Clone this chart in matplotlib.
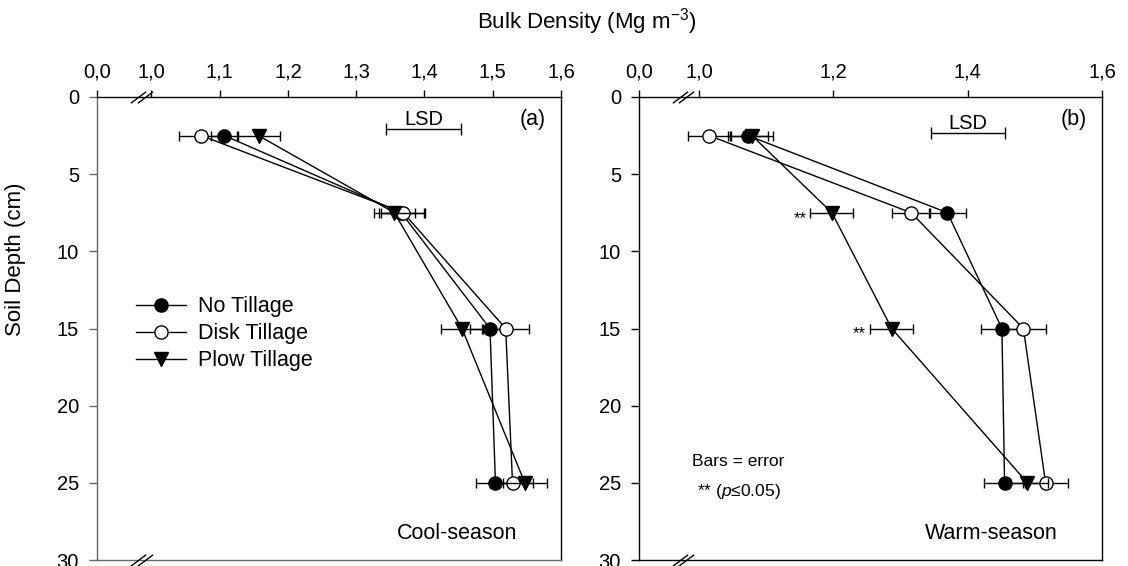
import matplotlib
matplotlib.use("Agg")
import matplotlib.pyplot as plt
from matplotlib.path import Path
from matplotlib.lines import Line2D
from matplotlib.transforms import blended_transform_factory

plt.rcParams['font.family'] = ['Liberation Sans', 'DejaVu Sans']
plt.rcParams['mathtext.fontset'] = 'custom'
plt.rcParams['mathtext.rm'] = 'Liberation Sans'
plt.rcParams['mathtext.it'] = 'Liberation Sans:italic'
plt.rcParams['mathtext.default'] = 'regular'

depth = [2.5, 7.5, 15, 25]
treatments = ["No Tillage", "Disk Tillage", "Plow Tillage"]

# cool-season bulk density (Mg m-3) and errors
cool_no = [1.107, 1.366, 1.496, 1.504]
cool_disk = [1.073, 1.369, 1.519, 1.529]
cool_plow = [1.157, 1.356, 1.455, 1.547]
cool_no_err = [0.020, 0.033, 0.030, 0.029]
cool_disk_err = [0.032, 0.032, 0.034, 0.030]
cool_plow_err = [0.032, 0.030, 0.031, 0.032]
cool_lsd = [1.344, 1.453]

# warm-season bulk density (Mg m-3) and errors
warm_no = [1.073, 1.370, 1.451, 1.455]
warm_disk = [1.015, 1.316, 1.483, 1.516]
warm_plow = [1.079, 1.198, 1.287, 1.489]
warm_no_err = [0.030, 0.027, 0.031, 0.031]
warm_disk_err = [0.031, 0.028, 0.033, 0.033]
warm_plow_err = [0.031, 0.032, 0.032, 0.030]
warm_lsd = [1.346, 1.455]
warm_signif_depth = [7.5, 15]

cool_ticks = [1.0, 1.1, 1.2, 1.3, 1.4, 1.5, 1.6]
warm_ticks = [1.0, 1.2, 1.4, 1.6]
depth_ticks = [0, 5, 10, 15, 20, 25, 30]

styles = [dict(marker='o', markerfacecolor='black', markersize=9.5),
          dict(marker='o', markerfacecolor='white', markersize=9.5),
          dict(marker='v', markerfacecolor='black', markersize=10)]

brk = Path([(-1, -0.75), (1, 0.75)], [Path.MOVETO, Path.LINETO])


def drawPanel(ax, series, errs, lsd, lsd_y, xmin, ticks, tag, season, spinecol, brkpos):
    for i in range(len(series)):
        ax.errorbar(series[i], depth, xerr=errs[i], color='black', lw=1,
                    capsize=3.5, capthick=1, elinewidth=1,
                    markeredgecolor='black', markeredgewidth=1,
                    zorder=3 + i, **styles[i])

    # LSD bar
    c = (lsd[0] + lsd[1]) / 2
    ax.errorbar([c], [lsd_y], xerr=[(lsd[1] - lsd[0]) / 2], fmt='none',
                ecolor='black', elinewidth=1, capsize=4, capthick=1)
    ax.text(c, lsd_y - 0.3, "LSD", ha='center', va='baseline', fontsize=14.5)

    ax.set_xlim(xmin, 1.6)
    ax.set_ylim(30, 0)
    ax.xaxis.tick_top()
    ax.set_xticks([xmin] + ticks)
    ax.set_xticklabels(["0,0"] + [("%.1f" % t).replace(".", ",") for t in ticks])
    ax.set_yticks(depth_ticks)
    ax.tick_params(axis='x', direction='out', length=5, width=1, pad=6, labelsize=14.5)
    ax.tick_params(axis='y', direction='out', length=6, width=1, pad=7, labelsize=14.5,
                   color=spinecol)
    for s in ['left', 'bottom']:
        ax.spines[s].set_color(spinecol)
    for s in ax.spines.values():
        s.set_linewidth(1)

    ax.text(0.94, 0.952, tag, transform=ax.transAxes, ha='center', va='center',
            fontsize=15.5)
    ax.text(0.905, 0.058, season, transform=ax.transAxes, ha='right', va='center',
            fontsize=15.5)

    # axis break marks
    tr = blended_transform_factory(ax.transData, ax.transAxes)
    xb = xmin + brkpos * (1.0 - xmin)
    d = 0.0045
    for yb in [0, 1]:
        ax.plot([xb - d, xb + d], [yb, yb], linestyle='none', marker=brk,
                markersize=11, markeredgewidth=1, color='black',
                transform=tr, clip_on=False, zorder=10)


fig = plt.figure(figsize=(11.28, 5.66), dpi=100)
ax1 = fig.add_axes([97 / 1128, 1 - 560 / 566, 464 / 1128, 463 / 566])
ax2 = fig.add_axes([639 / 1128, 1 - 560 / 566, 463 / 1128, 463 / 566])

drawPanel(ax1, [cool_no, cool_disk, cool_plow],
          [cool_no_err, cool_disk_err, cool_plow_err], cool_lsd, 2.1,
          0.9204, cool_ticks, "(a)", "Cool-season", '#666666', 0.82)
drawPanel(ax2, [warm_no, warm_disk, warm_plow],
          [warm_no_err, warm_disk_err, warm_plow_err], warm_lsd, 2.35,
          0.9108, warm_ticks, "(b)", "Warm-season", 'black', 0.74)

# significance stars beside plow tillage
for dp in warm_signif_depth:
    k = depth.index(dp)
    ax2.text(warm_plow[k] - warm_plow_err[k] - 0.006, dp + 0.35, "**",
             ha='right', va='center', fontsize=12)

ax2.text(0.115, 0.212, "Bars = error", transform=ax2.transAxes, ha='left',
         va='center', fontsize=12.5)
ax2.text(0.125, 0.147, r"** ($\mathit{p}$≤0.05)", transform=ax2.transAxes,
         ha='left', va='center', fontsize=12.5)

ax1.set_ylabel("Soil Depth (cm)", fontsize=16)
ax1.yaxis.set_label_coords(-0.152, 0.65)

handles = [Line2D([], [], color='black', lw=1, markeredgecolor='black',
                  markeredgewidth=1, **st) for st in styles]
ax1.legend(handles, treatments, loc='upper left', bbox_to_anchor=(0.085, 0.57),
           frameon=False, fontsize=15.5, handlelength=2.3, handletextpad=0.55,
           labelspacing=0.28, borderpad=0, borderaxespad=0)

fig.text(587 / 1128, 1 - 22 / 566, r"Bulk Density (Mg m$^{-3}$)", ha='center',
         va='center', fontsize=16)

fig.savefig("out.png", dpi=100)
